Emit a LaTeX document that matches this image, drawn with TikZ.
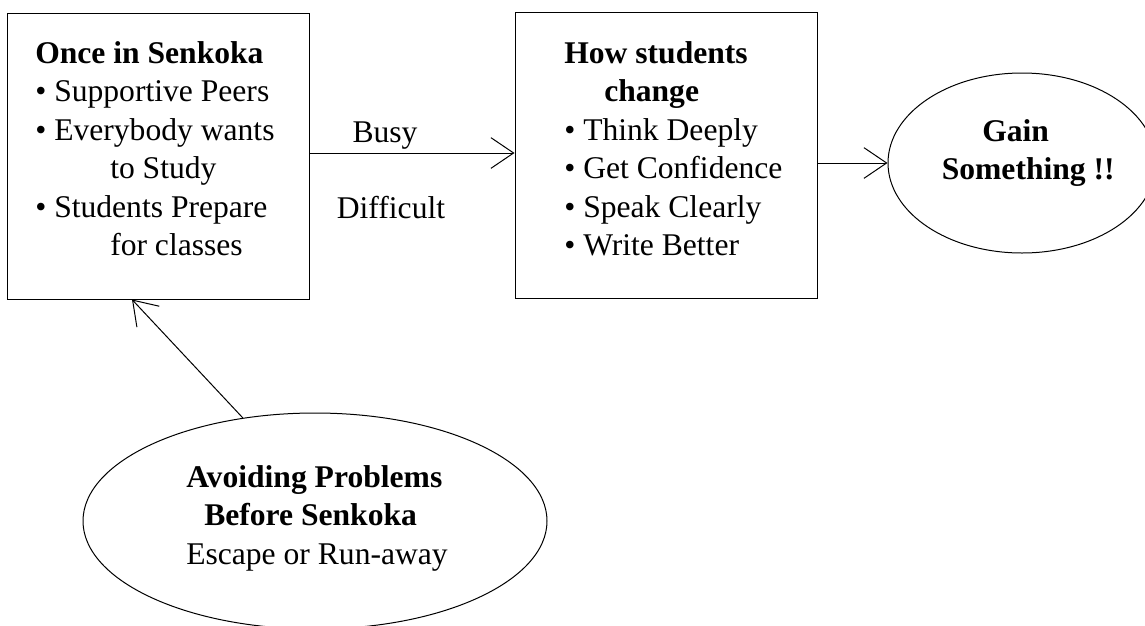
\documentclass[tikz,border=0pt]{standalone}
\usepackage{fontspec}
\setmainfont{Liberation Serif}
\usetikzlibrary{shapes.geometric,arrows.meta}
\tikzset{
  boxshape/.style={draw=black, line width=0.75pt, rectangle, inner sep=0pt,
    minimum width=226.5pt, minimum height=214.5pt},
  ovalshape/.style={draw=black, line width=0.75pt, ellipse, inner sep=0pt},
  txt/.style={inner sep=0pt, font=\fontsize{23.7}{28.9}\selectfont},
  arr/.style={draw=black, line width=0.75pt,
    -{Straight Barb[length=17pt, width=23pt, line width=0.75pt]}},
}
\newcommand{\bul}{\makebox[14.25pt][l]{•}}
\begin{document}
\begin{tikzpicture}[x=0.75pt, y=-0.75pt]
\useasboundingbox (0,0) rectangle (1145,625);
\clip (0,0) rectangle (1145,625);
% boxes
\node[boxshape] (box1) at (158,156) {};
\node[boxshape] (box2) at (666,155) {};
% ellipses
\node[ovalshape, minimum width=201pt, minimum height=135pt] (gain) at (1022,163) {};
\node[ovalshape, minimum width=348pt, minimum height=162pt] (avoid) at (315,521) {};
% texts
\node[txt, anchor=base west] (t1) at (35,63) {\begin{tabular}[t]{@{}l@{}}
\textbf{Once in Senkoka}\\
\bul Supportive Peers\\
\bul Everybody wants\\
\hspace*{56.25pt}to Study\\
\bul Students Prepare\\
\hspace*{56.25pt}for classes
\end{tabular}};
\node[txt, anchor=base west] (t2) at (564,63) {\begin{tabular}[t]{@{}l@{}}
\textbf{How students}\\
\hspace*{30pt}\textbf{change}\\
\bul Think Deeply\\
\bul Get Confidence\\
\bul Speak Clearly\\
\bul Write Better
\end{tabular}};
\node[txt, anchor=base west] (t3) at (941.5,141) {\begin{tabular}[t]{@{}l@{}}
\hspace*{30.4pt}\textbf{Gain}\\
\textbf{Something !!}
\end{tabular}};
\node[txt, anchor=base west] (t4) at (186,487) {\begin{tabular}[t]{@{}l@{}}
\textbf{Avoiding Problems}\\
\hspace*{13.5pt}\textbf{Before Senkoka}\\
Escape or Run-away
\end{tabular}};
\node[txt, anchor=base] (busy) at (385,142) {Busy};
\node[txt, anchor=base] (diff) at (391,218) {Difficult};
% connectors
\draw[arr] (box1.east |- 0,153) -- (box2.west |- 0,153);
\draw[arr] (box2.east |- gain.west) -- (gain.west);
\draw[arr] (avoid.125.5) -- (132,0 |- box1.south);
\end{tikzpicture}
\end{document}
